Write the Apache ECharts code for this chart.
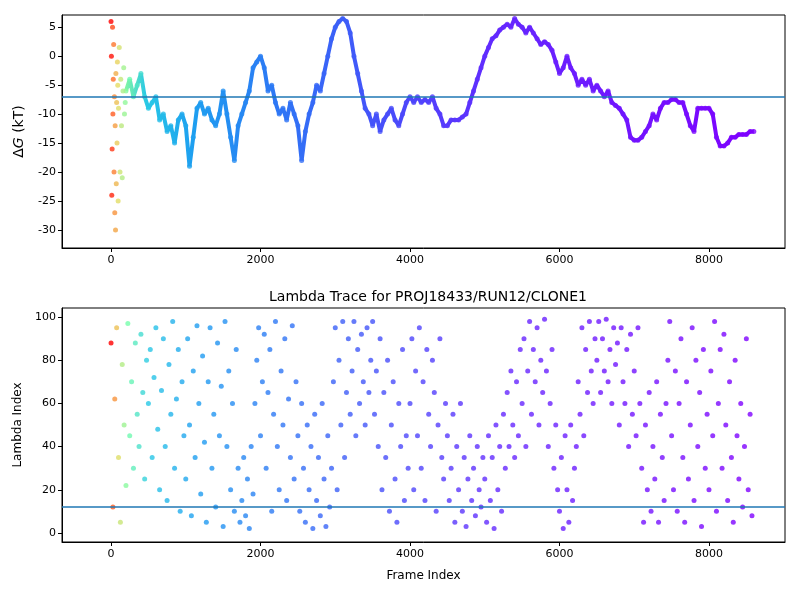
<!DOCTYPE html>
<html>
<head>
<meta charset="utf-8">
<script src="https://cdn.jsdelivr.net/npm/echarts@6/dist/echarts.min.js"></script>
<style>html,body{margin:0;padding:0;background:#fff}#main{width:800px;height:600px}</style>
</head>
<body>
<div id="main"></div>
<script>
// early frames of the free-energy trace (wide scatter)
const earlyFrames = [0,5,10,15,20,25,30,35,40,45,50,55,60,65,70,75,80,85,90,95,100,110,120,130,140,150,160,170,180,190];
const earlyDG = [6,0,-24,-16,5,-10,-4,2,-20,-7,-27,-12,-30,-3,-22,-8,-15,-1,-5,-25,-9,1.5,-20,-4,-12,-21,-6,-2,-10,-8];

// main trace, every 50 frames from 200
const traceStart = 200, traceStep = 50;
const traceDG = [
  -6,-4,-7,-5,-3,-7,-9,-8,-7,-11,-10,-13,-12,-15,-11,-10,-12,-19,-14,-9,
  -8,-10,-9,-11,-12,-10,-6,-10,-14,-18,-12,-10,-8,-6,-2,-1,0,-2,-6,-5,
  -8,-10,-9,-11,-8,-10,-12,-18,-13,-10,-8,-5,-6,-3,0,3,5,6,6.5,6,
  4,0,-3,-6,-9,-10,-12,-10,-13,-11,-10,-9,-11,-12,-10,-8,-7,-8,-7,-8,
  -7.5,-8,-7,-9,-10,-12,-12,-11,-11,-11,-10.5,-10,-8,-6,-4,-2,0,1.5,3,3.5,
  4.5,5,5.5,5,6.5,5.5,5,4,5,4,3,2,2.5,2,1,-1,-3,-2,0,-2,
  -3,-5,-4,-5,-4,-6,-5,-6,-7,-6,-8,-8.5,-9,-10,-11,-14,-14.5,-14.5,-14,-13,
  -12,-10,-11,-9,-8,-8,-7.5,-7.5,-8,-8,-10,-12,-13,-9,-9,-9,-9,-10,-14,-15.5,
  -15.5,-15,-14,-14,-13.5,-13.5,-13.5,-13,-13
];
const dgRef = -7;

// lambda index, every 25 frames from 0
const lambdaStep = 25;
const lambdaVals = [
  88,12,62,95,35,5,78,50,22,97,45,70,30,88,55,40,92,65,25,80,
  60,85,35,72,95,48,20,66,90,40,15,78,55,98,30,62,85,10,70,45,
  25,90,50,8,75,35,96,60,18,82,42,5,70,95,30,55,12,88,45,68,
  3,98,40,75,20,60,10,85,30,5,15,35,8,25,2,40,18,60,80,95,
  45,70,92,30,65,85,10,55,98,40,20,75,50,90,15,62,35,96,25,70,
  45,10,60,30,5,50,20,40,2,55,15,35,8,60,25,3,45,12,30,70,
  95,20,80,50,98,35,65,90,55,75,98,45,85,60,92,70,50,95,65,80,
  98,55,75,40,90,20,65,35,80,10,50,70,25,5,60,40,85,15,45,30,
  60,90,20,75,45,95,30,70,15,85,55,40,80,65,10,50,90,35,25,60,
  45,15,30,55,5,40,20,60,10,35,3,25,45,15,30,8,40,20,12,35,
  25,5,45,15,35,2,50,20,40,10,55,30,65,40,75,50,35,70,45,85,
  60,90,40,75,98,55,85,70,95,50,80,65,99,75,40,60,85,30,50,20,
  10,35,2,45,20,5,50,15,30,40,70,55,95,45,85,65,98,75,60,90,
  80,98,65,90,75,99,70,85,60,95,78,88,50,95,70,60,85,40,92,55,
  75,45,95,60,30,5,50,20,65,10,40,25,70,5,55,35,15,60,80,98,
  45,20,75,10,60,90,35,5,70,25,50,95,15,80,40,65,3,85,30,55,
  20,75,45,98,10,60,85,30,92,50,15,70,35,5,80,45,25,60,12,40,
  90,20,55,8
];
const lambdaRef = 12;
const xTicks = [0, 2000, 4000, 6000, 8000];

// colour stops by frame (rainbow, red -> violet)
const stops = [[0,[255,0,0]],[30,[255,110,40]],[90,[230,220,100]],[220,[120,255,170]],
  [500,[40,200,230]],[1100,[30,160,240]],[2200,[45,120,245]],[3600,[70,80,250]],
  [5200,[100,40,255]],[8700,[128,0,255]]];
function frameColor(f) {
  for (let i = 1; i < stops.length; i++) {
    if (f <= stops[i][0]) {
      const a = stops[i-1], b = stops[i], t = (f - a[0]) / (b[0] - a[0]);
      const c = a[1].map((v, k) => Math.round(v + (b[1][k] - v) * t));
      return 'rgb(' + c.join(',') + ')';
    }
  }
  return 'rgb(128,0,255)';
}

const earlyData = earlyFrames.map((f, i) => [f, earlyDG[i]]);
const traceData = traceDG.map((v, i) => [traceStart + i * traceStep, v]);
const lambdaData = lambdaVals.map((v, i) => [i * lambdaStep, v]);
const traceEnd = traceStart + (traceDG.length - 1) * traceStep;
const lineGrad = new echarts.graphic.LinearGradient(0, 0, 1, 0,
  [200, 500, 1100, 2200, 3600, 5200, traceEnd].map(f => ({
    offset: (f - traceStart) / (traceEnd - traceStart), color: frameColor(f)
  })));

const font = 'DejaVu Sans';
const xMin = -656, xMax = 9017;
function xAxis(idx, name) {
  return {
    gridIndex: idx, type: 'value', min: xMin, max: xMax,
    name: name, nameLocation: 'middle', nameGap: 28,
    nameTextStyle: { fontFamily: font, fontSize: 12, color: '#000' },
    axisLine: { onZero: false, lineStyle: { color: '#000' } },
    axisTick: { customValues: xTicks, length: 4, lineStyle: { color: '#000' } },
    axisLabel: { customValues: xTicks, formatter: v => String(v), fontFamily: font, fontSize: 11, color: '#000', margin: 7 },
    splitLine: { show: false }
  };
}
function yAxis(idx, min, max, interval, name, nameRich) {
  return {
    gridIndex: idx, type: 'value', min: min, max: max,
    name: name, nameLocation: 'middle', nameGap: 36,
    nameTextStyle: { fontFamily: font, fontSize: 12, color: '#000', rich: nameRich },
    axisLine: { show: true, onZero: false, lineStyle: { color: '#000' } },
    axisTick: { customValues: ticksFor(min, max, interval), length: 4, lineStyle: { color: '#000' } },
    axisLabel: { customValues: ticksFor(min, max, interval), fontFamily: font, fontSize: 11, color: '#000', margin: 6 },
    splitLine: { show: false }
  };
}
function ticksFor(min, max, step) {
  const out = [];
  for (let v = Math.ceil(min / step) * step; v <= max; v += step) out.push(v);
  return out;
}
const refLine = v => ({
  silent: true, symbol: 'none', label: { show: false },
  lineStyle: { color: '#1f77b4', width: 1.5, type: 'solid' },
  data: [{ yAxis: v }]
});

const chart = echarts.init(document.getElementById('main'));
chart.setOption({
  animation: false,
  title: {
    text: 'Lambda Trace for PROJ18433/RUN12/CLONE1', left: 423, top: 285, textAlign: 'center',
    textStyle: { fontFamily: font, fontSize: 14, fontWeight: 'normal', color: '#000' }
  },
  grid: [
    { left: 62, top: 15, width: 723, height: 233, show: true, borderColor: '#000', borderWidth: 1 },
    { left: 62, top: 308, width: 723, height: 234, show: true, borderColor: '#000', borderWidth: 1 }
  ],
  xAxis: [xAxis(0, ''), xAxis(1, 'Frame Index')],
  yAxis: [
    yAxis(0, -33.1, 7.1, 5, '{d|Δ}{g|G}{d| (kT)}', {
      d: { fontFamily: font, fontSize: 14 }, g: { fontFamily: font, fontSize: 14, fontStyle: 'italic' }
    }),
    yAxis(1, -4.2, 104.2, 20, 'Lambda Index')
  ],
  series: [
    {
      type: 'line', xAxisIndex: 0, yAxisIndex: 0, data: traceData, showSymbol: false,
      lineStyle: { width: 4, color: lineGrad }, z: 2, markLine: refLine(dgRef)
    },
    {
      type: 'scatter', xAxisIndex: 0, yAxisIndex: 0, data: traceData.concat(earlyData), symbolSize: 5,
      itemStyle: { color: p => frameColor(p.value[0]) }, z: 3
    },
    {
      type: 'scatter', xAxisIndex: 1, yAxisIndex: 1, data: lambdaData, symbolSize: 5,
      itemStyle: { color: p => frameColor(p.value[0]) }, markLine: refLine(lambdaRef)
    }
  ]
});
</script>
</body>
</html>
